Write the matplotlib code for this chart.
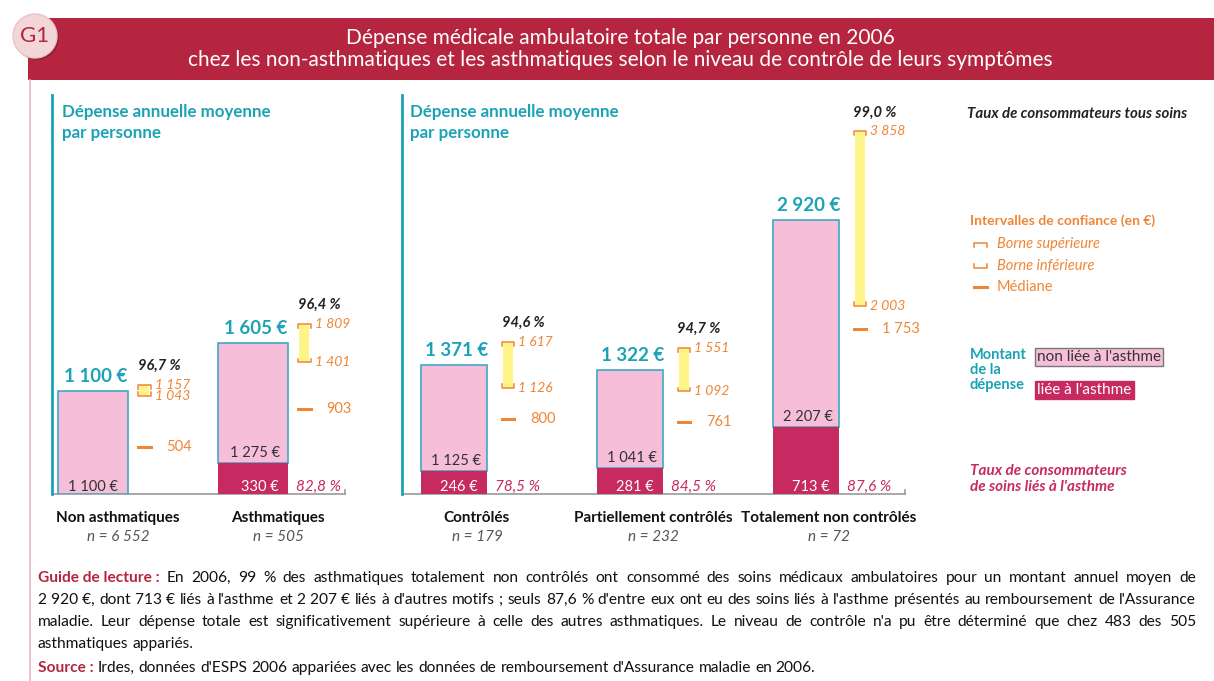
import matplotlib.pyplot as plt
from matplotlib.lines import Line2D
from matplotlib.patches import Rectangle, Ellipse

# ---- data ----
left_categories = ["Non asthmatiques", "Asthmatiques"]
left_n = ["n = 6 552", "n = 505"]
left_total = [1100, 1605]
left_asthma = [0, 330]
left_ci_low = [1043, 1401]
left_ci_high = [1157, 1809]
left_median = [504, 903]
left_pct_all = ["96,7 %", "96,4 %"]
left_pct_asthma = [None, "82,8 %"]

right_categories = ["Contrôlés", "Partiellement contrôlés", "Totalement non contrôlés"]
right_n = ["n = 179", "n = 232", "n = 72"]
right_total = [1371, 1322, 2920]
right_asthma = [246, 281, 713]
right_ci_low = [1126, 1092, 2003]
right_ci_high = [1617, 1551, 3858]
right_median = [800, 761, 1753]
right_pct_all = ["94,6 %", "94,7 %", "99,0 %"]
right_pct_asthma = ["78,5 %", "84,5 %", "87,6 %"]

# ---- style ----
PINK = "#F6BED8"
MAGENTA = "#C62A61"
TEAL = "#1BA3B5"
EDGE = "#3FA9C4"
ORANGE = "#EE8636"
YELLOW = "#FFF48A"
HEADER = "#B5253F"
DARK = "#333333"
plt.rcParams["font.family"] = ["Lato", "DejaVu Sans"]

W, H = 1214, 681
fig = plt.figure(figsize=(W / 100, H / 100), dpi=100)


def fx(px):
    return px / W


def fy(py):
    return 1 - py / H


def euro(v):
    return f"{v:,}".replace(",", " ") + " €"


def num(v):
    return f"{v:,}".replace(",", " ")


YMAX = 4245
BASE_PX = 494
TOP_PX = 95


def draw_panel(ax, cats, ns, total, asthma, lo, hi, med, pct_all, pct_asthma,
               bar_w, ci_off, ci_w, lab_off):
    ax.set_ylim(0, YMAX)
    for s in ["top", "right", "bottom"]:
        ax.spines[s].set_visible(False)
    ax.spines["left"].set_color(TEAL)
    ax.spines["left"].set_linewidth(2)
    ax.set_xticks([])
    ax.set_yticks([])
    ax.axhline(0, color="#9a9a9a", lw=1.2, clip_on=False)
    ax.patch.set_alpha(0)

    for i, name in enumerate(cats):
        other = total[i] - asthma[i]
        ax.bar(i, other, bottom=asthma[i], width=bar_w, color=PINK,
               edgecolor=EDGE, linewidth=1.2, zorder=2)
        if asthma[i] > 0:
            ax.bar(i, asthma[i], width=bar_w, color=MAGENTA, lw=0, zorder=3)
        # total label above bar
        ax.annotate(euro(total[i]), (i, total[i]), xytext=(3, 6),
                    textcoords="offset pixels", ha="center", va="bottom",
                    color=TEAL, fontsize=13.5, fontweight="bold")
        # inside labels
        if asthma[i] > 0:
            ax.annotate(euro(asthma[i]), (i + bar_w / 2, 0), xytext=(-9, 7),
                        textcoords="offset pixels", ha="right", va="center",
                        color="white", fontsize=10.5)
            ax.annotate(euro(other), (i, asthma[i]), xytext=(2, 10),
                        textcoords="offset pixels", ha="center", va="center",
                        color=DARK, fontsize=10.5)
        else:
            ax.annotate(euro(other), (i, 0), xytext=(0, 7),
                        textcoords="offset pixels", ha="center", va="center",
                        color=DARK, fontsize=10.5)
        if pct_asthma[i]:
            ax.annotate(pct_asthma[i], (i + bar_w / 2, 0), xytext=(8, 7),
                        textcoords="offset pixels", ha="left", va="center",
                        color=MAGENTA, fontsize=11, style="italic")

        # confidence interval
        cx = i + ci_off
        ax.bar(cx, hi[i] - lo[i], bottom=lo[i], width=ci_w * 0.8,
               color=YELLOW, lw=0, zorder=2)
        tick = 40
        ax.plot([cx - ci_w / 2, cx - ci_w / 2, cx + ci_w / 2, cx + ci_w / 2],
                [hi[i] - tick, hi[i], hi[i], hi[i] - tick],
                color=ORANGE, lw=1.1, zorder=3)
        ax.plot([cx - ci_w / 2, cx - ci_w / 2, cx + ci_w / 2, cx + ci_w / 2],
                [lo[i] + tick, lo[i], lo[i], lo[i] + tick],
                color=ORANGE, lw=1.1, zorder=3)
        ax.plot([cx - ci_w / 2, cx + ci_w / 2], [med[i], med[i]],
                color=ORANGE, lw=2.2, zorder=3)
        ax.annotate(num(hi[i]), (cx + ci_w / 2, hi[i]), xytext=(4, 0),
                    textcoords="offset pixels", ha="left", va="center",
                    color=ORANGE, fontsize=10, style="italic")
        ax.annotate(num(lo[i]), (cx + ci_w / 2, lo[i]), xytext=(4, 0),
                    textcoords="offset pixels", ha="left", va="center",
                    color=ORANGE, fontsize=10, style="italic")
        ax.annotate(num(med[i]), (cx, med[i]), xytext=(22, 0),
                    textcoords="offset pixels", ha="left", va="center",
                    color=ORANGE, fontsize=10.5)
        ax.annotate(pct_all[i], (cx, hi[i]), xytext=(15, 19),
                    textcoords="offset pixels", ha="center", va="center",
                    color="#222222", fontsize=10.5, fontweight="bold",
                    style="italic")

        # category labels
        ax.annotate(name, (i + lab_off, 0), xytext=(0, -24),
                    textcoords="offset pixels", ha="center", va="center",
                    color="#111111", fontsize=11, fontweight="bold",
                    annotation_clip=False)
        ax.annotate(ns[i], (i + lab_off, 0), xytext=(0, -43),
                    textcoords="offset pixels", ha="center", va="center",
                    color="#555555", fontsize=11, style="italic",
                    annotation_clip=False)


# left panel: spacing 160 px between bars
ax1 = fig.add_axes([fx(52), fy(BASE_PX), fx(293), (BASE_PX - TOP_PX) / H])
ax1.set_xlim(-41 / 160, (293 - 41) / 160)
draw_panel(ax1, left_categories, left_n, left_total, left_asthma,
           left_ci_low, left_ci_high, left_median, left_pct_all,
           left_pct_asthma, bar_w=70 / 160, ci_off=51 / 160,
           ci_w=13 / 160, lab_off=25 / 160)
ax1.plot([(293 - 41) / 160] * 2, [0, 40], color="#9a9a9a", lw=1.2,
         clip_on=False)

# right panel: spacing 176 px between bars
ax2 = fig.add_axes([fx(402), fy(BASE_PX), fx(503), (BASE_PX - TOP_PX) / H])
ax2.set_xlim(-52 / 176, (503 - 52) / 176)
draw_panel(ax2, right_categories, right_n, right_total, right_asthma,
           right_ci_low, right_ci_high, right_median, right_pct_all,
           right_pct_asthma, bar_w=66 / 176, ci_off=54 / 176,
           ci_w=12 / 176, lab_off=23 / 176)
ax2.plot([(503 - 52) / 176] * 2, [0, 40], color="#9a9a9a", lw=1.2,
         clip_on=False)

for xpx in (62, 410):
    fig.text(fx(xpx), fy(104), "Dépense annuelle moyenne\npar personne",
             ha="left", va="top", color=TEAL, fontsize=12.2,
             fontweight="bold", linespacing=1.35)

# ---- header ----
fig.add_artist(Rectangle((fx(28), fy(80)), 1 - fx(28), (80 - 18) / H,
                         transform=fig.transFigure, color=HEADER, lw=0))
fig.add_artist(Line2D([fx(30), fx(30)], [0, fy(80)], color="#E9B9C2",
                      lw=1.2))
fig.add_artist(Ellipse((fx(37), fy(38)), 44 / W, 44 / H,
                       transform=fig.transFigure, facecolor="#7a1a2c",
                       lw=0, alpha=0.5))
fig.add_artist(Ellipse((fx(35), fy(36)), 44 / W, 44 / H,
                       transform=fig.transFigure, facecolor="#F2D6D8",
                       edgecolor="#E8C4C8", lw=1))
fig.text(fx(35), fy(36), "G1", ha="center", va="center", color=HEADER,
         fontsize=16)
fig.text(fx(620), fy(38),
         "Dépense médicale ambulatoire totale par personne en 2006",
         ha="center", va="center", color="white", fontsize=15)
fig.text(fx(620), fy(60),
         "chez les non-asthmatiques et les asthmatiques selon le niveau "
         "de contrôle de leurs symptômes",
         ha="center", va="center", color="white", fontsize=15)

# ---- legend ----
fig.text(fx(967), fy(114), "Taux de consommateurs tous soins",
         ha="left", va="center", color="#222222", fontsize=10.8,
         fontweight="bold", style="italic")
fig.text(fx(970), fy(221), "Intervalles de confiance (en €)", ha="left",
         va="center", color=ORANGE, fontsize=10, fontweight="bold")
bx0, bx1 = fx(974), fx(987)
tk = 4 / H
fig.add_artist(Line2D([bx0, bx0, bx1, bx1],
                      [fy(243) - tk, fy(243), fy(243), fy(243) - tk],
                      color=ORANGE, lw=1.1))
fig.add_artist(Line2D([bx0, bx0, bx1, bx1],
                      [fy(268) + tk, fy(268), fy(268), fy(268) + tk],
                      color=ORANGE, lw=1.1))
fig.add_artist(Line2D([bx0, bx1], [fy(287), fy(287)], color=ORANGE, lw=2.2))
for ypx, txt, st in [(244, "Borne supérieure", "italic"),
                     (266, "Borne inférieure", "italic"),
                     (287, "Médiane", "normal")]:
    fig.text(fx(997), fy(ypx), txt, ha="left", va="center", color=ORANGE,
             fontsize=10.5, style=st)

fig.text(fx(970), fy(348), "Montant\nde la\ndépense", ha="left", va="top",
         color=TEAL, fontsize=10.5, fontweight="bold", linespacing=1.1)
fig.text(fx(1037), fy(357), "non liée à l'asthme", ha="left", va="center",
         color="#333333", fontsize=11,
         bbox=dict(boxstyle="square,pad=0.15", fc=PINK, ec="#777777", lw=1))
fig.text(fx(1037), fy(390), "liée à l'asthme", ha="left", va="center",
         color="white", fontsize=11,
         bbox=dict(boxstyle="square,pad=0.15", fc=MAGENTA, ec=MAGENTA, lw=1))
fig.text(fx(970), fy(479), "Taux de consommateurs\nde soins liés à l'asthme",
         ha="left", va="center", color=MAGENTA, fontsize=11,
         fontweight="bold", style="italic", linespacing=1.15)

# ---- footer (justified like the reference) ----
RED = "#B5253F"
NB = "\u00a0"
foot_lead = ["Guide de lecture :", "", "", ""]
foot_rest = [
    "En 2006, 99 % des asthmatiques totalement non contrôlés ont consommé "
    "des soins médicaux ambulatoires pour un montant annuel moyen de",
    f"2{NB}920{NB}€, dont 713{NB}€ liés à l'asthme et 2{NB}207{NB}€ liés à "
    "d'autres motifs ; seuls 87,6 % d'entre eux ont eu des soins liés à "
    "l'asthme présentés au remboursement de l'Assurance",
    "maladie. Leur dépense totale est significativement supérieure à "
    "celle des autres asthmatiques. Le niveau de contrôle n'a pu être "
    "déterminé que chez 483 des 505",
    "asthmatiques appariés.",
]
foot_y = [578, 600, 622, 644]
foot_justify = [True, True, True, False]
X_LEFT, X_RIGHT = 38, 1196

renderer = fig.canvas.get_renderer()


def text_width(s, size, weight="normal"):
    t = fig.text(0, 0, s, fontsize=size, fontweight=weight)
    w = t.get_window_extent(renderer).width
    t.remove()
    return w


probe = 12
widest = 0
for lead, rest in zip(foot_lead, foot_rest):
    w = text_width(rest, probe)
    if lead:
        w += text_width(lead + " ", probe, "bold")
    widest = max(widest, w)
fsize = probe * (X_RIGHT - X_LEFT) / widest * 0.985
space_w = text_width("a b", fsize) - text_width("ab", fsize)


def foot_line(ypx, lead, rest, justify):
    tokens = []
    if lead:
        tokens.append((lead, RED, "bold"))
    tokens += [(w, "#111111", "normal") for w in rest.split(" ")]
    widths = [text_width(s, fsize, wt) for s, _, wt in tokens]
    if justify and len(tokens) > 1:
        gap = (X_RIGHT - X_LEFT - sum(widths)) / (len(tokens) - 1)
    else:
        gap = space_w
    x = X_LEFT
    for (s, col, wt), w in zip(tokens, widths):
        fig.text(fx(x), fy(ypx), s, ha="left", va="center", color=col,
                 fontsize=fsize, fontweight=wt)
        x += w + gap


for lead, rest, ypx, j in zip(foot_lead, foot_rest, foot_y, foot_justify):
    foot_line(ypx, lead, rest, j)
foot_line(668, "Source :", "Irdes, données d'ESPS 2006 appariées avec les "
          "données de remboursement d'Assurance maladie en 2006.", False)

fig.savefig("out.png", dpi=100, facecolor="white")
